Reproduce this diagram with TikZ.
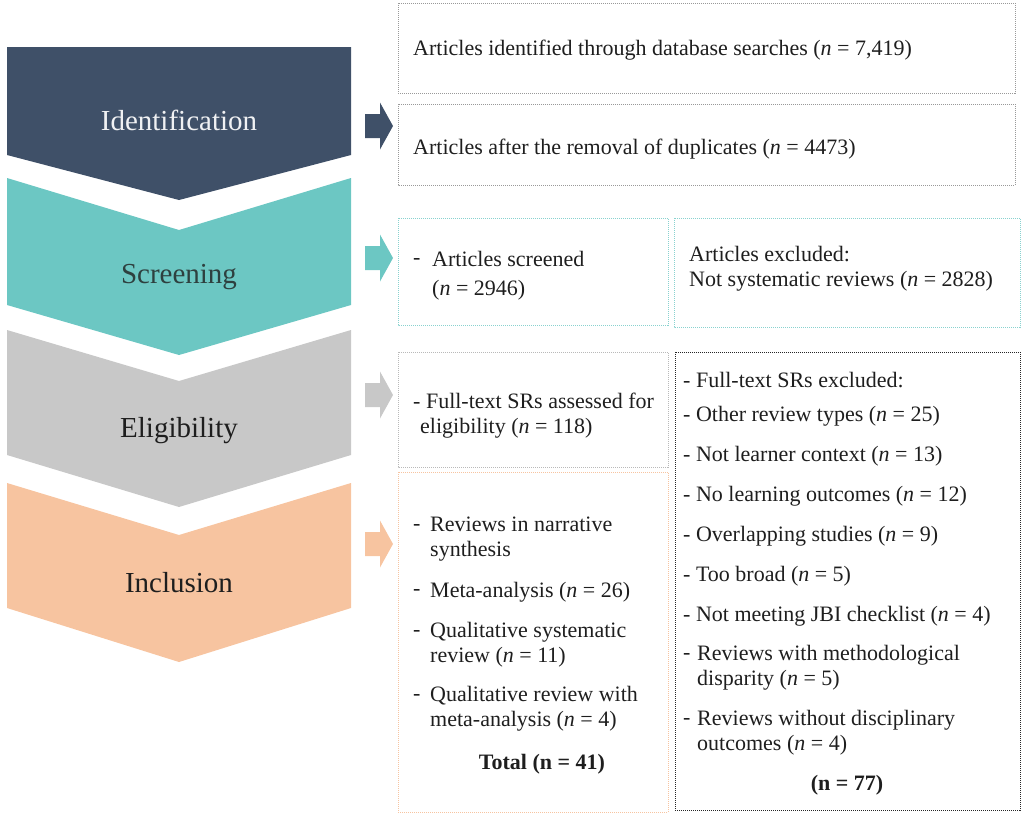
\documentclass[tikz,border=0pt]{standalone}
\usepackage{fontspec}
\setmainfont{Liberation Serif}
\definecolor{navy}{HTML}{3F5068}
\definecolor{teal}{HTML}{6CC7C3}
\definecolor{grayc}{HTML}{C8C8C8}
\definecolor{peach}{HTML}{F7C4A0}
\definecolor{txt}{HTML}{1E1E1E}
\begin{document}
\begin{tikzpicture}[x=1pt,y=-1pt,
  lbl/.style={font=\fontsize{29}{34}\selectfont, inner sep=0pt},
  tx/.style={font=\fontsize{22}{25}\selectfont, text=txt, anchor=west, inner sep=0pt, align=left},
  bx/.style={line width=0.9pt, dash pattern=on 1pt off 1pt}
]
\useasboundingbox (0,0) rectangle (1022,814);
% chevrons
\fill[navy] (7,47)--(351,47)--(351,155)--(179,200)--(7,155)--cycle;
\fill[teal] (7,178)--(179,230)--(351,178)--(351,305)--(179,355)--(7,305)--cycle;
\fill[grayc] (7,330)--(179,381)--(351,330)--(351,455)--(179,507)--(7,455)--cycle;
\fill[peach] (7,483)--(179,535)--(351,483)--(351,608)--(179,662)--(7,608)--cycle;
\node[lbl, text=white!92!navy] (lid) at (179,120) {Identification};
\node[lbl, text=txt!80!teal] (lsc) at (179,277) {Screening};
\node[lbl, text=txt] (lel) at (179,431) {Eligibility};
\node[lbl, text=txt] (lin) at (179,583) {Inclusion};
% block arrows
\foreach \c/\yy in {navy/126, teal/258, grayc/395, peach/544}{
  \fill[\c] (365,\yy-12)--(380,\yy-12)--(380,\yy-23.5)--(393,\yy)--(380,\yy+23.5)--(380,\yy+12)--(365,\yy+12)--cycle;
}
% boxes
\draw[bx, draw=gray!80] (398,3) rectangle (1015,93);
\draw[bx, draw=gray!80] (398,104) rectangle (1015,185);
\draw[bx, draw=teal!80] (398,218) rectangle (668,325);
\draw[bx, draw=teal!80] (674,218) rectangle (1020,327);
\draw[bx, draw=gray!55] (398,352) rectangle (668,467);
\draw[bx, draw=gray!30!black] (675,352) rectangle (1020,810);
\draw[bx, draw=peach] (398,472) rectangle (668,812);
% texts
\node[tx] (t1) at (413,50) {Articles identified through database searches (\textit{n} = 7,419)};
\node[tx] (t2) at (413,149) {Articles after the removal of duplicates (\textit{n} = 4473)};
\node[tx] (t3a) at (413,261) {-};
\node[tx] (t3) at (432,276) {Articles screened\\[4pt](\textit{n} = 2946)};
\node[tx] (t4) at (689,269) {Articles excluded:\\Not systematic reviews (\textit{n} = 2828)};
\node[tx] (t5) at (413,416) {- Full-text SRs assessed for\\\hspace*{7pt}eligibility (\textit{n} = 118)};
% inclusion
\node[tx] (i1a) at (413,527) {-};
\node[tx] (i1) at (430,539) {Reviews in narrative\\synthesis};
\node[tx] (i2a) at (413,592) {-};
\node[tx] (i2) at (430,592) {Meta-analysis (\textit{n} = 26)};
\node[tx] (i3a) at (413,633) {-};
\node[tx] (i3) at (430,645) {Qualitative systematic\\review (\textit{n} = 11)};
\node[tx] (i4a) at (413,697) {-};
\node[tx] (i4) at (430,709) {Qualitative review with\\meta-analysis (\textit{n} = 4)};
\node[tx, anchor=center, font=\fontsize{22}{25}\selectfont\bfseries] (itot) at (542,764) {Total (n = 41)};
% excluded
\node[tx] (e0) at (683,380) {- Full-text SRs excluded:};
\node[tx] (e1) at (683,416) {- Other review types (\textit{n} = 25)};
\node[tx] (e2) at (683,456) {- Not learner context (\textit{n} = 13)};
\node[tx] (e3) at (683,496) {- No learning outcomes (\textit{n} = 12)};
\node[tx] (e4) at (683,536) {- Overlapping studies (\textit{n} = 9)};
\node[tx] (e5) at (683,576) {- Too broad (\textit{n} = 5)};
\node[tx] (e6) at (683,616) {- Not meeting JBI checklist (\textit{n} = 4)};
\node[tx] (e7a) at (683,656) {-};
\node[tx] (e7) at (697,668) {Reviews with methodological\\disparity (\textit{n} = 5)};
\node[tx] (e8a) at (683,721) {-};
\node[tx] (e8) at (697,733) {Reviews without disciplinary\\outcomes (\textit{n} = 4)};
\node[tx, anchor=center, font=\fontsize{22}{25}\selectfont\bfseries] (etot) at (847,785) {(n = 77)};
\end{tikzpicture}
\end{document}
